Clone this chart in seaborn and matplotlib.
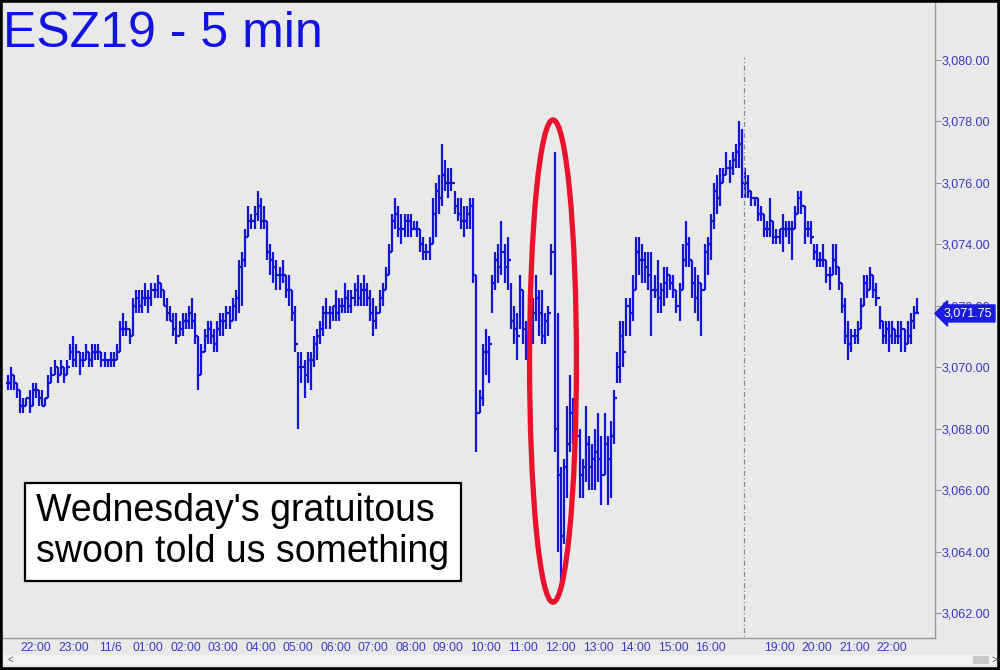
import matplotlib
matplotlib.use("Agg")
import numpy as np
import pandas as pd
import seaborn as sns
import matplotlib.pyplot as plt
import matplotlib.transforms as mtransforms
from matplotlib.patches import Ellipse, Rectangle

# --- Data: 5-min bars, ESZ19 (session 1 = overnight + day, session 2 = evening) ---

s1_high = [
    3069.75, 3070.0, 3069.75, 3069.5, 3069.25, 3069.0, 3069.0, 3069.25, 3069.5, 3069.5, 3069.25, 3069.25, 3069.0,
    3069.75, 3070.0, 3070.25, 3070.0, 3070.25, 3070.0, 3070.25,
    3070.75, 3071.0, 3070.75, 3070.5, 3070.5, 3070.75, 3070.5, 3070.75, 3070.75, 3070.75, 3070.5, 3070.5, 3070.25, 3070.5, 3070.5, 3070.75,
    3071.5, 3071.75, 3071.5, 3071.25, 3072.25, 3072.5, 3072.5,
    3072.5, 3072.75, 3072.5, 3072.75, 3072.75, 3073.0, 3072.75,
    3072.5, 3072.25, 3072.0, 3071.75, 3071.75, 3071.5, 3071.75, 3071.75, 3072.0, 3072.25, 3071.75,
    3071.0, 3070.75,
    3071.25, 3071.5, 3071.5, 3071.25, 3071.5, 3071.75,
    3071.75, 3072.0, 3072.0, 3072.25, 3072.5,
    3073.5, 3073.75, 3074.5,
    3075.25, 3075.0, 3075.25, 3075.75, 3075.5, 3075.25,
    3074.75, 3074.0, 3073.75,
    3073.5, 3073.25, 3073.5, 3073.0, 3073.0,
    3072.5, 3072.0, 3070.5,
    3070.5, 3070.25, 3070.5, 3070.5, 3071.0, 3071.25, 3071.5,
    3072.0, 3072.25, 3072.0, 3072.0, 3072.5, 3072.25, 3072.25, 3072.75, 3072.5, 3072.5, 3072.75, 3073.0, 3072.75, 3073.0, 3072.75, 3072.5, 3072.25, 3072.0,
    3072.5, 3072.75, 3073.25, 3074.0, 3075.0,
    3075.5, 3075.25, 3075.0, 3075.0, 3075.0, 3075.0, 3074.75, 3074.75,
    3074.5, 3074.25, 3074.0, 3074.25, 3075.5, 3076.0, 3076.25,
    3077.25, 3076.75, 3076.5, 3076.5, 3075.75, 3075.5, 3075.5, 3075.25, 3075.25, 3075.5,
    3075.5, 3073.0, 3069.25, 3070.75, 3071.25, 3071.0,
    3073.0, 3073.75, 3074.0, 3074.75, 3074.0, 3074.25,
    3072.75, 3072.0, 3071.75, 3073.0, 3072.5, 3071.5, 3071.75, 3072.25,
    3073.0, 3072.5, 3072.5, 3071.75, 3072.0, 3074.0,
    3077.0, 3071.75, 3066.75, 3067.0, 3068.75, 3069.75, 3069.0, 3068.75, 3068.0, 3067.0, 3068.75, 3067.75, 3067.5, 3068.0, 3068.5, 3067.75, 3068.5, 3067.75, 3068.25, 3069.25,
    3070.5, 3071.5, 3071.5, 3072.25, 3072.25, 3073.0, 3074.25, 3074.25, 3074.0, 3073.75, 3073.75, 3073.75, 3073.0, 3073.5, 3072.75, 3073.25, 3073.25, 3073.0, 3073.0, 3072.5,
    3072.75, 3074.0, 3074.75, 3074.25, 3073.5, 3073.25, 3073.0, 3072.75, 3074.0, 3074.25, 3075.0, 3076.0, 3076.25, 3076.5, 3076.5, 3077.0, 3076.75, 3077.0, 3077.25, 3078.0, 3077.75,
]
s1_low = [
    3069.25, 3069.25, 3069.25, 3069.0, 3068.5, 3068.5, 3068.75, 3068.5, 3068.75, 3069.0, 3068.75, 3068.75, 3068.75,
    3069.0, 3069.5, 3069.75, 3069.5, 3069.75, 3069.5, 3069.75,
    3070.25, 3070.0, 3070.0, 3069.75, 3070.0, 3070.25, 3070.0, 3070.0, 3070.25, 3070.25, 3070.0, 3070.0, 3070.0, 3070.0, 3070.0, 3070.25,
    3070.5, 3071.0, 3071.0, 3070.75, 3071.0, 3071.75, 3071.75,
    3071.75, 3072.0, 3071.75, 3072.0, 3072.25, 3072.25, 3072.25,
    3072.0, 3071.5, 3071.5, 3071.0, 3070.75, 3071.0, 3071.0, 3071.25, 3071.25, 3071.25, 3070.75,
    3069.25, 3069.75,
    3070.5, 3070.75, 3070.75, 3070.5, 3070.5, 3071.0,
    3071.0, 3071.25, 3071.25, 3071.5, 3071.5,
    3071.75, 3072.0, 3073.25,
    3074.25, 3074.5, 3074.5, 3074.75, 3074.5, 3074.5,
    3073.5, 3073.0, 3072.75,
    3072.5, 3072.5, 3072.75, 3072.25, 3072.0,
    3071.5, 3070.5, 3068.0,
    3069.5, 3069.0, 3069.5, 3069.25, 3070.0, 3070.25, 3070.75,
    3071.0, 3071.25, 3071.25, 3071.5, 3071.5, 3071.5, 3071.75, 3071.75, 3071.75, 3071.75, 3072.0, 3072.0, 3072.0, 3072.0, 3072.0, 3071.5, 3071.0, 3071.25,
    3071.75, 3072.0, 3072.5, 3073.0, 3073.75,
    3074.5, 3074.25, 3074.0, 3074.25, 3074.25, 3074.25, 3074.5, 3074.25,
    3073.75, 3073.5, 3073.5, 3073.5, 3074.0, 3074.25, 3075.0,
    3075.25, 3075.75, 3075.5, 3075.75, 3075.0, 3074.75, 3074.5, 3074.25, 3074.5, 3074.5,
    3072.75, 3067.25, 3068.5, 3068.75, 3069.75, 3069.5,
    3071.75, 3072.5, 3072.75, 3073.0, 3072.75, 3072.5,
    3071.25, 3070.75, 3070.25, 3071.25, 3070.75, 3070.25, 3070.0, 3070.75,
    3071.5, 3071.0, 3070.75, 3070.75, 3071.0, 3073.0,
    3067.25, 3064.0, 3063.0, 3064.25, 3065.75, 3067.25, 3067.5, 3067.0, 3065.75, 3065.75, 3066.25, 3066.0, 3066.0, 3066.0, 3066.25, 3065.5, 3066.5, 3065.5, 3065.75, 3067.5,
    3069.5, 3069.5, 3070.0, 3071.0, 3071.0, 3071.5, 3072.5, 3073.0, 3072.75, 3072.75, 3072.5, 3071.0, 3072.25, 3071.75, 3071.75, 3072.0, 3072.25, 3072.5, 3072.25, 3071.75,
    3071.5, 3072.5, 3073.25, 3073.25, 3072.25, 3071.75, 3071.5, 3071.0, 3072.5, 3073.0, 3073.5, 3074.5, 3075.0, 3075.25, 3076.0, 3076.25, 3076.0, 3076.25, 3076.5, 3076.5, 3075.5,
]
s1_close = [
    3069.5, 3069.75, 3069.5, 3069.25, 3068.75, 3068.75, 3069.0, 3068.75, 3069.25, 3069.25, 3069.0, 3068.75, 3069.0,
    3069.5, 3069.75, 3070.0, 3069.75, 3070.0, 3069.75, 3070.0,
    3070.5, 3070.25, 3070.5, 3070.25, 3070.25, 3070.5, 3070.25, 3070.5, 3070.5, 3070.5, 3070.25, 3070.25, 3070.25, 3070.25, 3070.25, 3070.5,
    3071.25, 3071.25, 3071.25, 3071.0, 3072.0, 3072.25, 3072.0,
    3072.25, 3072.25, 3072.25, 3072.5, 3072.5, 3072.75, 3072.5,
    3072.0, 3071.75, 3071.5, 3071.25, 3071.0, 3071.25, 3071.5, 3071.5, 3071.75, 3071.5, 3071.0,
    3069.75, 3070.5,
    3071.0, 3071.25, 3071.0, 3070.75, 3071.25, 3071.5,
    3071.5, 3071.75, 3071.5, 3072.0, 3072.25,
    3073.25, 3073.5, 3074.25,
    3074.75, 3074.75, 3075.0, 3075.25, 3074.75, 3074.75,
    3073.75, 3073.5, 3073.25,
    3073.0, 3073.0, 3073.0, 3072.5, 3072.5,
    3071.75, 3070.75, 3070.0,
    3070.0, 3069.75, 3070.25, 3070.25, 3070.75, 3071.0, 3071.25,
    3071.75, 3071.75, 3071.75, 3072.0, 3071.75, 3072.0, 3072.0, 3072.25, 3072.0, 3072.25, 3072.5, 3072.25, 3072.5, 3072.5, 3072.25, 3071.75, 3071.5, 3071.75,
    3072.25, 3072.5, 3073.0, 3073.75, 3074.75,
    3075.0, 3074.5, 3074.5, 3074.75, 3074.75, 3074.5, 3074.5, 3074.5,
    3074.0, 3073.75, 3073.75, 3074.0, 3075.0, 3075.75, 3075.5,
    3076.25, 3076.0, 3076.0, 3076.0, 3075.25, 3075.0, 3074.75, 3074.75, 3075.0, 3075.25,
    3073.0, 3068.5, 3069.0, 3070.5, 3070.5, 3070.75,
    3072.75, 3073.5, 3073.25, 3073.75, 3073.25, 3073.5,
    3071.5, 3071.25, 3071.0, 3072.5, 3071.25, 3070.75, 3071.25, 3071.75,
    3072.25, 3071.75, 3071.0, 3071.5, 3071.75, 3073.75,
    3068.0, 3066.5, 3064.5, 3066.75, 3067.5, 3068.5, 3068.25, 3067.75, 3066.5, 3066.75, 3067.5, 3066.75, 3067.0, 3067.25, 3067.0, 3066.5, 3067.5, 3067.0, 3067.75, 3069.0,
    3070.0, 3071.0, 3070.5, 3072.0, 3071.75, 3072.5, 3073.75, 3073.5, 3073.5, 3073.25, 3073.0, 3072.5, 3072.5, 3072.25, 3072.5, 3072.75, 3073.0, 3072.75, 3072.5, 3072.0,
    3072.5, 3073.5, 3074.0, 3073.5, 3072.75, 3072.25, 3072.75, 3072.5, 3073.75, 3074.0, 3074.75, 3075.75, 3075.5, 3076.0, 3076.25, 3076.5, 3076.5, 3076.75, 3077.0, 3077.25, 3076.0,
]

s2_high = [
    3076.5, 3076.25, 3075.75, 3075.5, 3075.5, 3075.25, 3075.0, 3074.75, 3075.5, 3074.75,
    3074.5, 3074.5, 3075.0, 3074.75, 3074.75, 3074.75, 3075.25, 3075.75, 3075.75, 3075.25,
    3074.75, 3074.75, 3074.0, 3074.0, 3073.75, 3074.0, 3073.5, 3073.25, 3074.0, 3074.0,
    3073.25, 3072.75, 3072.25, 3071.5, 3071.25, 3071.25, 3071.5, 3072.25, 3073.0, 3073.0,
    3073.25, 3073.0, 3072.75, 3072.0, 3071.5, 3071.5, 3071.5, 3071.5, 3071.25, 3071.5,
    3071.5, 3071.25, 3071.5, 3071.75, 3072.0, 3072.25,
]
s2_low = [
    3075.5, 3075.5, 3075.25, 3075.25, 3074.75, 3074.75, 3074.25, 3074.25, 3074.25, 3074.0,
    3074.0, 3074.0, 3073.75, 3074.25, 3074.0, 3073.5, 3074.5, 3075.0, 3075.0, 3074.0,
    3074.25, 3074.0, 3073.5, 3073.25, 3073.25, 3073.25, 3072.75, 3072.5, 3073.0, 3073.0,
    3072.5, 3071.75, 3070.75, 3070.25, 3070.5, 3070.75, 3070.75, 3071.25, 3072.0, 3072.25,
    3072.5, 3072.25, 3072.0, 3071.25, 3070.75, 3070.75, 3070.5, 3070.75, 3070.75, 3070.75,
    3070.5, 3070.5, 3070.75, 3070.75, 3071.25, 3071.75,
]
s2_close = [
    3076.0, 3075.75, 3075.5, 3075.5, 3075.0, 3075.0, 3074.5, 3074.5, 3074.75, 3074.25,
    3074.25, 3074.5, 3074.5, 3074.5, 3074.5, 3074.5, 3075.0, 3075.5, 3075.25, 3074.5,
    3074.5, 3074.25, 3073.75, 3073.5, 3073.5, 3073.5, 3073.0, 3073.0, 3073.5, 3073.25,
    3072.75, 3072.0, 3071.0, 3070.75, 3071.0, 3071.0, 3071.25, 3072.0, 3072.75, 3072.5,
    3073.0, 3072.5, 3072.25, 3071.5, 3071.0, 3071.25, 3071.0, 3071.25, 3071.0, 3071.0,
    3071.25, 3070.75, 3071.0, 3071.5, 3071.75, 3071.75,
]

s1_hour_labels = ["22:00", "23:00", "11/6", "01:00", "02:00", "03:00", "04:00", "05:00", "06:00",
                  "07:00", "08:00", "09:00", "10:00", "11:00", "12:00", "13:00", "14:00", "15:00", "16:00"]
s2_hour_labels = ["19:00", "20:00", "21:00", "22:00"]
s1_first_hour_bar = 9
s2_first_hour_bar = 11
bars_per_hour = 12

price_ticks = [3062, 3064, 3066, 3068, 3070, 3072, 3074, 3076, 3078, 3080]
last_price = 3071.75

title = "ESZ19 - 5 min"
note_lines = ["Wednesday's gratuitous", "swoon told us something"]
swoon_bars = (175, 177)

# --- Build bar table ---

s1 = pd.DataFrame({"high": s1_high, "low": s1_low, "close": s1_close})
s2 = pd.DataFrame({"high": s2_high, "low": s2_low, "close": s2_close})
s1["idx"] = np.arange(len(s1))
s2["idx"] = np.arange(len(s2)) + len(s1)
bars = pd.concat([s1, s2], ignore_index=True)
bars["open"] = bars["close"].shift(1).fillna(bars["close"])

# --- Style ---

BG = "#e9e9e9"
BAR_BLUE = "#1414d6"
LABEL_BLUE = "#3a3ac4"

sns.set_style("white", {"axes.facecolor": BG, "figure.facecolor": BG})
plt.rcParams["font.family"] = ["Liberation Sans", "DejaVu Sans"]

fig = plt.figure(figsize=(10, 6.7), dpi=100)
ax = fig.add_axes([0.003, 1 - 638 / 670, 0.932, 638 / 670])
ax.set_facecolor(BG)

ax.vlines(bars["idx"], bars["low"], bars["high"], color=BAR_BLUE, lw=1.6)
ax.hlines(bars["open"], bars["idx"] - 0.6, bars["idx"], color=BAR_BLUE, lw=1.6)
ax.hlines(bars["close"], bars["idx"], bars["idx"] + 0.6, color=BAR_BLUE, lw=1.6)

# session break
brk = len(s1) - 0.5
ax.vlines(brk, 3061, 3080.1, color="#8a8a8a", lw=0.9, linestyles=(0, (4, 2, 1, 2)))

# swoon ellipse
sw = bars.iloc[swoon_bars[0]:swoon_bars[1] + 1]
cx = sw.loc[(sw["high"] - sw["low"]).idxmax(), "idx"] - 0.5
cy = (sw["high"].max() + sw["low"].min()) / 2 + 0.2
eh = sw["high"].max() - sw["low"].min() + 1.7
ax.add_patch(Ellipse((cx, cy), 15.0, eh, fill=False, edgecolor="#e8122d", lw=3.8, zorder=5))

ax.set_xlim(-1.5, -1.5 + 932 / 3.125)
ax.set_ylim(3080 - 578 / 30.72, 3080 + 60 / 30.72)

# axes
for s in ["left", "top"]:
    ax.spines[s].set_visible(False)
for s in ["right", "bottom"]:
    ax.spines[s].set_color("#9a9a9a")
    ax.spines[s].set_linewidth(1.0)

ax.yaxis.tick_right()
ax.set_yticks(price_ticks)
ax.set_yticklabels([f"{p:,.2f}" for p in price_ticks])
ax.tick_params(axis="y", direction="out", length=4, width=0.8, color="#9a9a9a",
               labelsize=9, labelcolor=LABEL_BLUE, pad=1)

xt = [s1_first_hour_bar + k * bars_per_hour for k in range(len(s1_hour_labels))]
xt += [len(s1) + s2_first_hour_bar + k * bars_per_hour for k in range(len(s2_hour_labels))]
ax.set_xticks(xt)
ax.set_xticklabels(s1_hour_labels + s2_hour_labels)
ax.tick_params(axis="x", direction="in", length=4, width=0.8, color="#9a9a9a",
               labelsize=8.7, labelcolor=LABEL_BLUE, pad=3)

# last price tag (sits on top of the 3,072.00 label, as in the source chart)
trans = mtransforms.offset_copy(
    mtransforms.blended_transform_factory(ax.transAxes, ax.transData), fig=fig, x=9, y=0, units="dots")
ax.text(1.0, last_price, f"{last_price:,.2f}", transform=trans, ha="left", va="center",
        fontsize=9, color="white", zorder=10, clip_on=False,
        bbox=dict(boxstyle="larrow,pad=0.2", fc="#1a1ae0", ec="#1a1ae0"))

# title and note
fig.text(0.003, 1 - 47 / 670, title, fontsize=36, color="#1212e2", va="baseline", ha="left")
fig.patches.append(Rectangle((25 / 1000, 1 - 581 / 670), 436 / 1000, 98 / 670, transform=fig.transFigure,
                             facecolor="white", edgecolor="black", lw=1.6, zorder=6))
fig.text(0.036, 1 - 521 / 670, note_lines[0], fontsize=27, color="black", va="baseline", zorder=7)
fig.text(0.036, 1 - 562 / 670, note_lines[1], fontsize=27, color="black", va="baseline", zorder=7)

# scroll bar strip and frame
fig.patches.append(Rectangle((0, 5 / 670), 1, 10 / 670, transform=fig.transFigure,
                             facecolor="#f2f2f2", edgecolor="none"))
fig.patches.append(Rectangle((973 / 1000, 6 / 670), 16 / 1000, 8 / 670, transform=fig.transFigure,
                             facecolor="#c9c9c9", edgecolor="none"))
fig.text(0.008, 10 / 670, "<", fontsize=7, color="#555555", va="center")
fig.text(0.991, 10 / 670, ">", fontsize=7, color="#555555", va="center")
fig.patches.append(Rectangle((0, 0), 1, 1, transform=fig.transFigure, fill=False,
                             edgecolor="black", lw=4, zorder=20))

fig.savefig("out.png", dpi=100, facecolor=BG)
